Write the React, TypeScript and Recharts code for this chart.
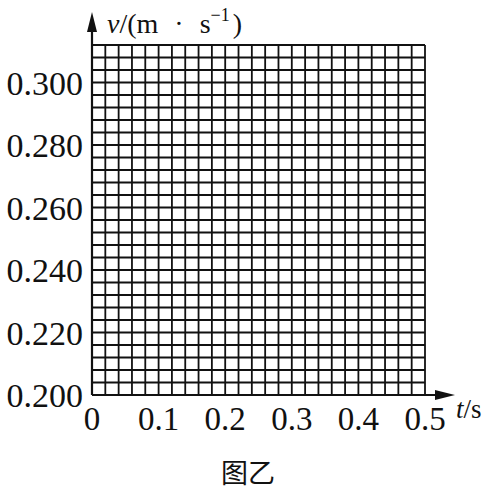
import { LineChart, XAxis, YAxis, ReferenceLine } from "recharts";

// axis ranges (one cell = 0.02 s by 0.004 m/s)
const xTicks = [0, 0.1, 0.2, 0.3, 0.4, 0.5];
const yTicks = [0.2, 0.22, 0.24, 0.26, 0.28, 0.3];
const xGrid = Array.from({ length: 26 }, (_, i) => Math.round(i * 20) / 1000);
const yGrid = Array.from({ length: 29 }, (_, i) => Math.round(200 + i * 4) / 1000);
const xEnd = 0.545;
const yEnd = 0.3226;
const yLabel = "v";
const xLabel = "t";
const caption = "图乙";

const serif = "'Liberation Serif', 'Times New Roman', serif";

const XArrow = (props: any) => {
  const { x1, y1, x2, y2 } = props;
  return (
    <g>
      <line x1={x1} y1={y1} x2={x2 - 10} y2={y2} stroke="#111" strokeWidth={2.2} />
      <polygon points={`${x2},${y2} ${x2 - 20},${y2 - 5} ${x2 - 20},${y2 + 5}`} fill="#111" />
      <text x={x2 + 1} y={y2 + 23} fontFamily={serif} fontSize={27} fill="#111">
        <tspan fontStyle="italic">{xLabel}</tspan>
        <tspan>/s</tspan>
      </text>
    </g>
  );
};

const YArrow = (props: any) => {
  const { x1, y1, y2 } = props;
  const top = Math.min(y1, y2);
  const bottom = Math.max(y1, y2);
  return (
    <g>
      <line x1={x1} y1={bottom} x2={x1} y2={top + 10} stroke="#111" strokeWidth={2.2} />
      <polygon points={`${x1},${top} ${x1 - 5},${top + 20} ${x1 + 5},${top + 20}`} fill="#111" />
      <text x={x1 + 15} y={top + 21} fontFamily={serif} fontSize={28} fill="#111">
        <tspan fontStyle="italic">{yLabel}</tspan>
        <tspan>/(m</tspan>
        <tspan dx={16}>·</tspan>
        <tspan dx={16}>s</tspan>
        <tspan fontSize={18} dy={-12}>−1</tspan>
        <tspan dy={12} dx={3}>)</tspan>
      </text>
    </g>
  );
};

export default function App() {
  return (
    <div style={{ position: "absolute", left: 0, top: 0, width: 492, height: 490, background: "#fff" }}>
      <LineChart
        width={492}
        height={490}
        data={[]}
        margin={{ top: 45, right: 67, bottom: 55, left: 6 }}
      >
        <XAxis
          type="number"
          dataKey="t"
          domain={[0, 0.5]}
          ticks={xTicks}
          allowDataOverflow
          axisLine={false}
          tickLine={false}
          height={40}
          tickMargin={6}
          tickFormatter={(v: number) => (v === 0 ? "0" : v.toFixed(1))}
          tick={{ fontFamily: serif, fontSize: 33, fill: "#111" }}
        />
        <YAxis
          type="number"
          dataKey="v"
          domain={[0.2, 0.312]}
          ticks={yTicks}
          allowDataOverflow
          axisLine={false}
          tickLine={false}
          width={86}
          tickMargin={3}
          tickFormatter={(v: number) => v.toFixed(3)}
          tick={{ fontFamily: serif, fontSize: 34, fill: "#111" }}
        />
        {xGrid.map((x) => (
          <ReferenceLine key={`gx-${x}`} x={x} stroke="#111" strokeWidth={1.8} ifOverflow="visible" />
        ))}
        {yGrid.map((y) => (
          <ReferenceLine key={`gy-${y}`} y={y} stroke="#111" strokeWidth={1.8} ifOverflow="visible" />
        ))}
        <ReferenceLine
          segment={[{ x: 0, y: 0.2 }, { x: xEnd, y: 0.2 }]}
          ifOverflow="visible"
          shape={XArrow}
        />
        <ReferenceLine
          segment={[{ x: 0, y: 0.2 }, { x: 0, y: yEnd }]}
          ifOverflow="visible"
          shape={YArrow}
        />
      </LineChart>
      <div
        style={{
          position: "absolute",
          left: 0,
          width: 496,
          top: 452,
          textAlign: "center",
          fontFamily: "'Noto Sans CJK SC', serif",
          fontSize: 27,
          color: "#111",
        }}
      >
        {caption}
      </div>
    </div>
  );
}
